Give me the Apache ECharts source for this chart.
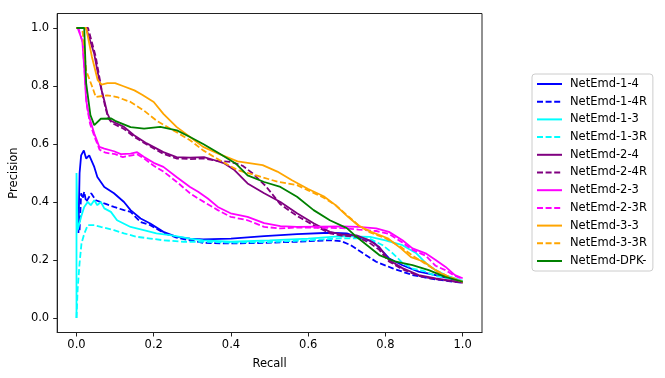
<!DOCTYPE html>
<html>
<head>
<meta charset="utf-8">
<script src="https://cdn.jsdelivr.net/npm/echarts@6/dist/echarts.min.js"></script>
<style>
  html, body { margin: 0; padding: 0; background: #fff; }
  #chart { width: 665px; height: 378px; }
</style>
</head>
<body>
<div id="chart"></div>
<script>
// tick labels
const xTicks = [0.0, 0.2, 0.4, 0.6, 0.8, 1.0];
const yTicks = [0.0, 0.2, 0.4, 0.6, 0.8, 1.0];

// [recall, precision]
const netEmd14 = [[0.005,0.293],[0.008,0.5],[0.012,0.561],[0.019,0.578],[0.025,0.55],[0.033,0.561],[0.046,0.521],[0.054,0.486],[0.072,0.452],[0.097,0.43],[0.123,0.40],[0.14,0.372],[0.166,0.343],[0.191,0.326],[0.225,0.297],[0.259,0.28],[0.294,0.274],[0.328,0.271],[0.4,0.274],[0.486,0.282],[0.571,0.289],[0.656,0.294],[0.7,0.292],[0.725,0.28],[0.768,0.263],[0.794,0.228],[0.81,0.205],[0.844,0.182],[0.886,0.16],[0.93,0.148],[1.0,0.125]];
const netEmd14R = [[0.008,0.303],[0.012,0.43],[0.016,0.412],[0.02,0.435],[0.025,0.40],[0.038,0.43],[0.05,0.406],[0.072,0.395],[0.097,0.383],[0.123,0.372],[0.14,0.366],[0.166,0.331],[0.191,0.32],[0.225,0.294],[0.259,0.277],[0.294,0.268],[0.328,0.259],[0.4,0.257],[0.486,0.259],[0.571,0.263],[0.656,0.268],[0.686,0.265],[0.71,0.251],[0.742,0.223],[0.776,0.194],[0.819,0.171],[0.87,0.148],[0.93,0.133],[1.0,0.121]];
const netEmd13 = [[0,0],[0,0.5],[0.003,0.303],[0.012,0.349],[0.02,0.383],[0.029,0.40],[0.037,0.389],[0.046,0.406],[0.054,0.389],[0.063,0.40],[0.072,0.378],[0.089,0.366],[0.105,0.337],[0.14,0.314],[0.174,0.303],[0.207,0.292],[0.242,0.286],[0.294,0.274],[0.328,0.268],[0.4,0.263],[0.5,0.268],[0.6,0.274],[0.686,0.282],[0.76,0.28],[0.8,0.268],[0.844,0.251],[0.88,0.223],[0.904,0.19],[0.93,0.165],[0.96,0.145],[1.0,0.128]];
const netEmd13R = [[0,0],[0.003,0.1],[0.008,0.19],[0.013,0.258],[0.02,0.29],[0.029,0.32],[0.046,0.32],[0.063,0.314],[0.097,0.303],[0.123,0.292],[0.156,0.28],[0.191,0.274],[0.225,0.268],[0.277,0.263],[0.328,0.263],[0.4,0.26],[0.5,0.262],[0.6,0.268],[0.686,0.275],[0.758,0.274],[0.793,0.251],[0.819,0.223],[0.844,0.19],[0.87,0.17],[0.9,0.162],[0.93,0.145],[1.0,0.128]];
const netEmd24 = [[0,1.0],[0.025,1.0],[0.046,0.91],[0.054,0.853],[0.063,0.796],[0.072,0.75],[0.08,0.705],[0.089,0.68],[0.123,0.659],[0.149,0.63],[0.182,0.602],[0.225,0.572],[0.259,0.555],[0.294,0.553],[0.33,0.555],[0.358,0.544],[0.383,0.533],[0.409,0.51],[0.443,0.464],[0.486,0.43],[0.528,0.40],[0.571,0.361],[0.614,0.327],[0.656,0.297],[0.686,0.288],[0.725,0.285],[0.758,0.268],[0.784,0.245],[0.809,0.20],[0.844,0.172],[0.886,0.148],[0.93,0.137],[1.0,0.122]];
const netEmd24R = [[0,1.0],[0.03,1.0],[0.05,0.9],[0.058,0.84],[0.066,0.78],[0.074,0.73],[0.082,0.69],[0.092,0.672],[0.123,0.652],[0.149,0.625],[0.182,0.598],[0.225,0.566],[0.259,0.55],[0.294,0.548],[0.33,0.55],[0.365,0.542],[0.4,0.538],[0.43,0.525],[0.455,0.5],[0.49,0.455],[0.528,0.392],[0.571,0.352],[0.614,0.32],[0.656,0.292],[0.686,0.284],[0.725,0.28],[0.758,0.26],[0.784,0.235],[0.809,0.195],[0.844,0.168],[0.886,0.145],[0.93,0.134],[1.0,0.122]];
const netEmd23 = [[0.003,1.0],[0.015,0.956],[0.02,0.864],[0.025,0.75],[0.033,0.693],[0.046,0.636],[0.059,0.59],[0.072,0.584],[0.097,0.575],[0.115,0.565],[0.14,0.567],[0.157,0.572],[0.174,0.556],[0.2,0.535],[0.225,0.521],[0.259,0.486],[0.294,0.452],[0.315,0.435],[0.34,0.412],[0.366,0.383],[0.399,0.361],[0.443,0.349],[0.486,0.327],[0.528,0.317],[0.571,0.314],[0.686,0.316],[0.73,0.314],[0.776,0.309],[0.809,0.297],[0.844,0.268],[0.87,0.24],[0.904,0.223],[0.93,0.20],[0.955,0.177],[0.98,0.148],[1.0,0.137]];
const netEmd23R = [[0.005,1.0],[0.016,0.95],[0.021,0.85],[0.027,0.73],[0.035,0.67],[0.048,0.62],[0.06,0.58],[0.075,0.57],[0.1,0.565],[0.12,0.555],[0.14,0.56],[0.157,0.565],[0.175,0.55],[0.2,0.525],[0.225,0.505],[0.259,0.47],[0.294,0.43],[0.315,0.412],[0.366,0.372],[0.399,0.349],[0.443,0.337],[0.486,0.314],[0.528,0.309],[0.571,0.312],[0.686,0.31],[0.73,0.305],[0.776,0.30],[0.809,0.29],[0.844,0.26],[0.87,0.235],[0.904,0.215],[0.93,0.18],[0.955,0.165],[0.98,0.145],[1.0,0.135]];
const netEmd33 = [[0,1.0],[0.025,1.0],[0.04,0.9],[0.055,0.82],[0.065,0.805],[0.08,0.81],[0.1,0.81],[0.12,0.80],[0.15,0.785],[0.17,0.77],[0.2,0.745],[0.225,0.704],[0.259,0.659],[0.294,0.624],[0.328,0.59],[0.37,0.565],[0.417,0.54],[0.482,0.527],[0.52,0.505],[0.558,0.475],[0.6,0.445],[0.64,0.42],[0.67,0.39],[0.703,0.349],[0.729,0.32],[0.763,0.297],[0.806,0.275],[0.84,0.24],[0.866,0.21],[0.9,0.194],[0.934,0.16],[0.965,0.14],[1.0,0.125]];
const netEmd33R = [[0,1.0],[0.015,1.0],[0.025,0.853],[0.04,0.80],[0.05,0.762],[0.079,0.768],[0.105,0.762],[0.14,0.745],[0.174,0.716],[0.208,0.68],[0.251,0.647],[0.294,0.613],[0.328,0.578],[0.37,0.545],[0.417,0.51],[0.47,0.49],[0.52,0.47],[0.571,0.458],[0.6,0.44],[0.64,0.415],[0.67,0.39],[0.7,0.355],[0.73,0.32],[0.76,0.295],[0.8,0.275],[0.84,0.245],[0.87,0.215],[0.9,0.19],[0.93,0.165],[0.96,0.145],[1.0,0.125]];
const netEmdDPK = [[0,1.0],[0.02,1.0],[0.025,0.81],[0.036,0.70],[0.046,0.665],[0.063,0.687],[0.09,0.688],[0.1,0.68],[0.14,0.658],[0.175,0.653],[0.217,0.659],[0.26,0.647],[0.294,0.624],[0.328,0.60],[0.37,0.567],[0.412,0.533],[0.443,0.492],[0.486,0.469],[0.528,0.452],[0.571,0.418],[0.614,0.372],[0.656,0.337],[0.7,0.31],[0.725,0.28],[0.758,0.245],[0.784,0.217],[0.827,0.194],[0.87,0.182],[0.912,0.165],[0.955,0.142],[1.0,0.125]];

const seriesNames = ['NetEmd-1-4', 'NetEmd-1-4R', 'NetEmd-1-3', 'NetEmd-1-3R', 'NetEmd-2-4', 'NetEmd-2-4R', 'NetEmd-2-3', 'NetEmd-2-3R', 'NetEmd-3-3', 'NetEmd-3-3R', 'NetEmd-DPK-'];
const seriesData = [netEmd14, netEmd14R, netEmd13, netEmd13R, netEmd24, netEmd24R, netEmd23, netEmd23R, netEmd33, netEmd33R, netEmdDPK];
const colors = ['#0000ff', '#0000ff', '#00ffff', '#00ffff', '#800080', '#800080', '#ff00ff', '#ff00ff', '#ffa500', '#ffa500', '#008000'];

const font = 'DejaVu Sans';
const chart = echarts.init(document.getElementById('chart'), null, { renderer: 'canvas' });

const option = {
  animation: false,
  textStyle: { fontFamily: font },
  grid: {
    show: true,
    left: 52.5,
    right: 183,
    top: 13.5,
    bottom: 45.5,
    borderColor: '#222',
    borderWidth: 1
  },
  legend: {
    data: seriesNames,
    orient: 'vertical',
    left: 532,
    top: 74,
    padding: [4, 6, 4, 4],
    itemWidth: 25,
    itemHeight: 12,
    itemGap: 5.7,
    borderColor: '#cccccc',
    borderWidth: 1,
    borderRadius: 3,
    backgroundColor: '#fff',
    // hide the dot, keep only the line sample
    itemStyle: { opacity: 0 },
    textStyle: { fontFamily: font, fontSize: 11.5, color: '#000', padding: [0, 0, 0, 3] }
  },
  xAxis: {
    type: 'value',
    min: -0.05,
    max: 1.05,
    name: 'Recall',
    nameLocation: 'middle',
    nameGap: 26,
    nameTextStyle: { fontFamily: font, fontSize: 11.5, color: '#000' },
    axisLine: { show: true, onZero: false, lineStyle: { color: '#222', width: 1 } },
    axisTick: { show: true, length: 4, customValues: xTicks, lineStyle: { color: '#222' } },
    axisLabel: {
      customValues: xTicks,
      margin: 7,
      fontFamily: font,
      fontSize: 11.5,
      color: '#000',
      formatter: v => v.toFixed(1)
    },
    splitLine: { show: false }
  },
  yAxis: {
    type: 'value',
    min: -0.05,
    max: 1.05,
    name: 'Precision',
    nameLocation: 'middle',
    nameGap: 33,
    nameTextStyle: { fontFamily: font, fontSize: 11.5, color: '#000' },
    axisLine: { show: true, onZero: false, lineStyle: { color: '#222', width: 1 } },
    axisTick: { show: true, length: 4, customValues: yTicks, lineStyle: { color: '#222' } },
    axisLabel: {
      customValues: yTicks,
      margin: 8,
      fontFamily: font,
      fontSize: 11.5,
      color: '#000',
      formatter: v => v.toFixed(1)
    },
    splitLine: { show: false }
  },
  series: seriesNames.map((name, i) => ({
    name: name,
    type: 'line',
    data: seriesData[i],
    symbol: 'none',
    color: colors[i],
    lineStyle: {
      color: colors[i],
      width: 1.8,
      type: name.endsWith('R') ? [6, 2.6] : 'solid'
    }
  }))
};

chart.setOption(option);
</script>
</body>
</html>
